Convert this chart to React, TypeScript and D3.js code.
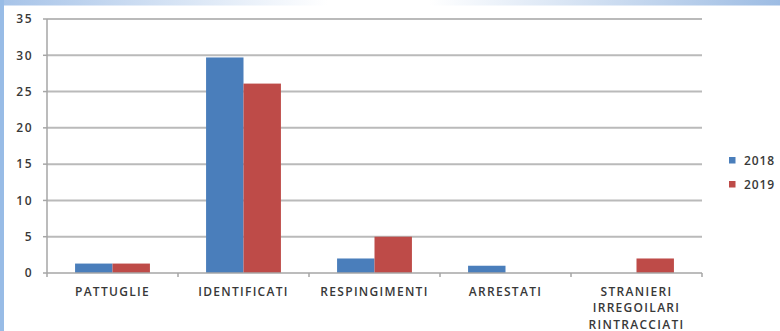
import React from "react";
import * as d3 from "d3";

const categories = ["PATTUGLIE", "IDENTIFICATI", "RESPINGIMENTI", "ARRESTATI", "STRANIERI IRREGOILARI RINTRACCIATI"];
const categoryLines = [["PATTUGLIE"], ["IDENTIFICATI"], ["RESPINGIMENTI"], ["ARRESTATI"], ["STRANIERI", "IRREGOILARI", "RINTRACCIATI"]];
const seriesNames = ["2018", "2019"];
const values2018 = [1.3, 29.7, 2, 1, 0];
const values2019 = [1.3, 26.1, 5, 0, 2];
const yTicks = [0, 5, 10, 15, 20, 25, 30, 35];
const seriesColors = ["#4a7ebb", "#be4b48"];

const W = 780;
const H = 331;
const plot = { left: 47, right: 702, top: 19, bottom: 273 };
const font = "'Open Sans', 'Liberation Sans', sans-serif";
const textColor = "#383838";

export default function App() {
  const x = d3.scaleBand<string>().domain(categories).range([plot.left, plot.right]);
  const y = d3.scaleLinear().domain([0, 35]).range([plot.bottom, plot.top]);
  const gap = 1.5;
  const barW = x.bandwidth() / (seriesNames.length + gap);
  const x1 = d3
    .scaleBand<string>()
    .domain(seriesNames)
    .range([(gap / 2) * barW, (gap / 2) * barW + seriesNames.length * barW]);
  const seriesData = [values2018, values2019];

  return (
    <svg
      width={W}
      height={H}
      style={{ position: "fixed", left: 0, top: 0, background: "#fff" }}
    >
      <defs>
        <linearGradient id="topband" x1="0" x2="1" y1="0" y2="0">
          <stop offset="0" stopColor="#a6c3e8" />
          <stop offset="0.42" stopColor="#ffffff" />
          <stop offset="0.55" stopColor="#ffffff" />
          <stop offset="1" stopColor="#9dbce3" />
        </linearGradient>
      </defs>
      <rect x={0} y={0} width={W} height={H} fill="#fff" />
      <rect x={0} y={0} width={W} height={5.5} fill="url(#topband)" />
      <rect x={0} y={0} width={4} height={H} fill="#98bce6" />

      {/* gridlines */}
      {yTicks.slice(1).map((t) => (
        <line key={t} x1={plot.left} x2={plot.right} y1={y(t)} y2={y(t)} stroke="#bababa" strokeWidth={2} />
      ))}

      {/* y ticks + labels */}
      {yTicks.map((t) => (
        <g key={t}>
          <line x1={plot.left - 4} x2={plot.left} y1={y(t)} y2={y(t)} stroke="#a6a6a6" strokeWidth={1.5} />
          <text
            x={33}
            y={y(t)}
            dy="0.36em"
            textAnchor="end"
            fontFamily={font}
            fontSize={12}
            fontWeight={600}
            letterSpacing={1.5}
            fill={textColor}
          >
            {t}
          </text>
        </g>
      ))}

      {/* bars */}
      {categories.map((c, i) => (
        <g key={c} transform={`translate(${x(c)},0)`}>
          {seriesNames.map((s, j) => {
            const v = seriesData[j][i];
            if (!v) return null;
            return (
              <rect
                key={s}
                x={x1(s)}
                y={y(v)}
                width={x1.bandwidth()}
                height={y(0) - y(v)}
                fill={seriesColors[j]}
              />
            );
          })}
        </g>
      ))}

      {/* axes */}
      <line x1={plot.left} x2={plot.left} y1={plot.top} y2={plot.bottom} stroke="#a6a6a6" strokeWidth={1.5} />
      <line x1={plot.left} x2={plot.right} y1={plot.bottom} y2={plot.bottom} stroke="#a6a6a6" strokeWidth={1.5} />
      {categories.map((c) => (
        <line
          key={c}
          x1={(x(c) as number) + x.bandwidth()}
          x2={(x(c) as number) + x.bandwidth()}
          y1={plot.bottom}
          y2={plot.bottom + 4}
          stroke="#a6a6a6"
          strokeWidth={1.5}
        />
      ))}
      <line x1={plot.left} x2={plot.left} y1={plot.bottom} y2={plot.bottom + 4} stroke="#a6a6a6" strokeWidth={1.5} />

      {/* category labels */}
      {categories.map((c, i) => (
        <text
          key={c}
          x={(x(c) as number) + x.bandwidth() / 2}
          y={295.5}
          textAnchor="middle"
          fontFamily={font}
          fontSize={12}
          fontWeight={600}
          letterSpacing={1.3}
          fill={textColor}
        >
          {categoryLines[i].map((line, k) => (
            <tspan key={line} x={(x(c) as number) + x.bandwidth() / 2} dy={k === 0 ? 0 : 16.5}>
              {line}
            </tspan>
          ))}
        </text>
      ))}

      {/* legend */}
      {seriesNames.map((s, j) => (
        <g key={s} transform={`translate(729,${157 + j * 24})`}>
          <rect x={0} y={0} width={6.5} height={6.5} fill={seriesColors[j]} />
          <text
            x={15}
            y={3.5}
            dy="0.36em"
            fontFamily={font}
            fontSize={12}
            fontWeight={600}
            letterSpacing={0.9}
            fill={textColor}
          >
            {s}
          </text>
        </g>
      ))}
    </svg>
  );
}
